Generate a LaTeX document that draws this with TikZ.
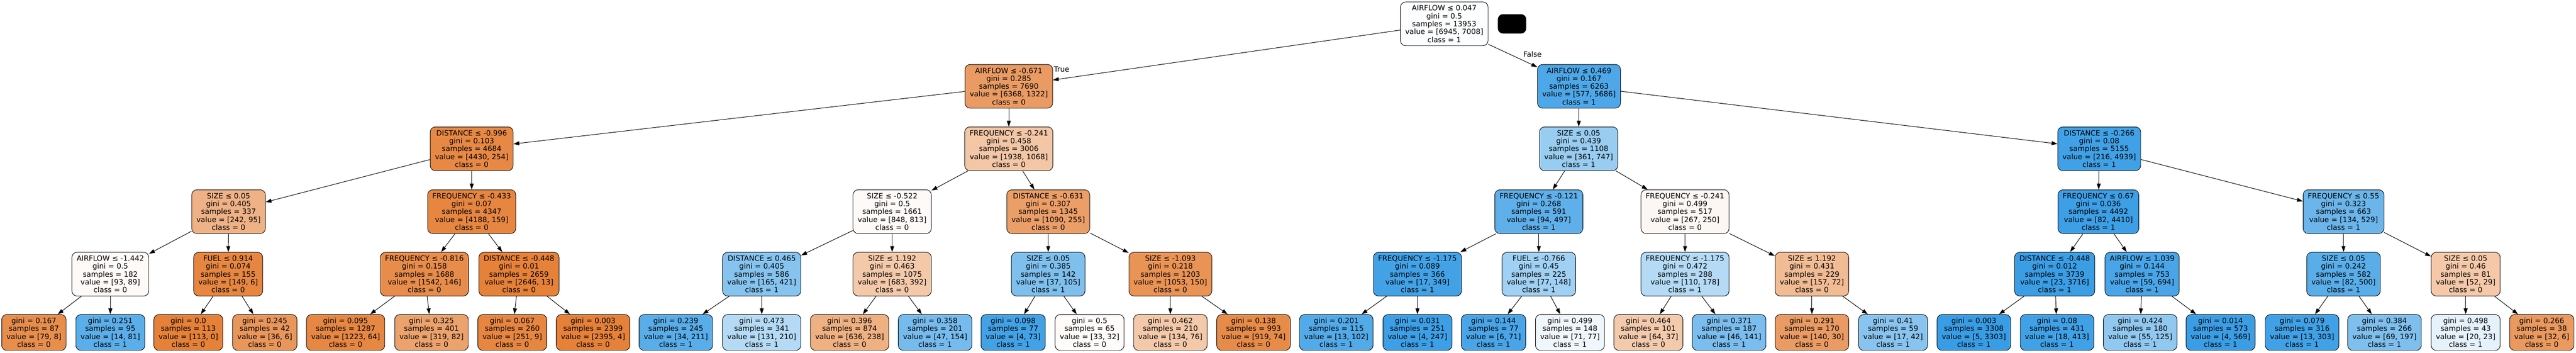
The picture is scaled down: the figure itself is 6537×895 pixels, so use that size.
\documentclass[tikz,border=0pt]{standalone}
\usepackage{fontspec}
\usepackage{tikz}
\usetikzlibrary{arrows.meta}
\newfontfamily\treefont{DejaVu Sans}
\definecolor{orng}{RGB}{229,129,57}
\definecolor{blu}{RGB}{57,157,229}

\begin{document}
\begin{tikzpicture}[x=1pt, y=-1pt,
	split/.style={draw=black, line width=1.2pt, rounded corners=13pt, align=center, inner xsep=12pt, inner ysep=4pt, minimum height=111pt, font={\treefont\fontsize{18.5}{20}\selectfont}},
	leaf/.style={split, minimum height=91pt},
	edge/.style={line width=1.3pt, -{Triangle[length=15pt,width=10pt]}},
	lbl/.style={font={\treefont\fontsize{18.5}{20}\selectfont}}]
	\useasboundingbox (0,0) rectangle (6537,895);
	% depth 0
	\node[split, fill=blu!1!white] (n0) at (3665,60.5) {AIRFLOW ≤ 0.047\\gini = 0.5\\samples = 13953\\value = [6945, 7008]\\class = 1};
	\node[fill=black, rounded corners=13pt, minimum width=72pt, minimum height=49pt, inner sep=0pt] (blob) at (3837,60.5) {};
	% depth 1
	\node[split, fill=orng!79!white] (n1) at (2560,219) {AIRFLOW ≤ -0.671\\gini = 0.285\\samples = 7690\\value = [6368, 1322]\\class = 0};
	\node[split, fill=blu!90!white] (n32) at (4007,219) {AIRFLOW ≤ 0.469\\gini = 0.167\\samples = 6263\\value = [577, 5686]\\class = 1};
	\node[lbl] (t) at (2694,176) {True};
	\node[lbl] (f) at (3889,137) {False};
	% depth 2
	\node[split, fill=orng!94!white] (n2) at (1197,377.5) {DISTANCE ≤ -0.996\\gini = 0.103\\samples = 4684\\value = [4430, 254]\\class = 0};
	\node[split, fill=orng!45!white] (n17) at (2560,377.5) {FREQUENCY ≤ -0.241\\gini = 0.458\\samples = 3006\\value = [1938, 1068]\\class = 0};
	\node[split, fill=blu!52!white] (n33) at (4006,377.5) {SIZE ≤ 0.05\\gini = 0.439\\samples = 1108\\value = [361, 747]\\class = 1};
	\node[split, fill=blu!96!white] (n48) at (5327,377.5) {DISTANCE ≤ -0.266\\gini = 0.08\\samples = 5155\\value = [216, 4939]\\class = 1};
	% depth 3
	\node[split, fill=orng!61!white] (n3) at (580,537) {SIZE ≤ 0.05\\gini = 0.405\\samples = 337\\value = [242, 95]\\class = 0};
	\node[split, fill=orng!96!white] (n10) at (1197,537) {FREQUENCY ≤ -0.433\\gini = 0.07\\samples = 4347\\value = [4188, 159]\\class = 0};
	\node[split, fill=orng!4!white] (n18) at (2264,537) {SIZE ≤ -0.522\\gini = 0.5\\samples = 1661\\value = [848, 813]\\class = 0};
	\node[split, fill=orng!77!white] (n25) at (2660,537) {DISTANCE ≤ -0.631\\gini = 0.307\\samples = 1345\\value = [1090, 255]\\class = 0};
	\node[split, fill=blu!81!white] (n34) at (3905,537) {FREQUENCY ≤ -0.121\\gini = 0.268\\samples = 591\\value = [94, 497]\\class = 1};
	\node[split, fill=orng!6!white] (n41) at (4276,537) {FREQUENCY ≤ -0.241\\gini = 0.499\\samples = 517\\value = [267, 250]\\class = 0};
	\node[split, fill=blu!98!white] (n49) at (5325,537) {FREQUENCY ≤ 0.67\\gini = 0.036\\samples = 4492\\value = [82, 4410]\\class = 1};
	\node[split, fill=blu!75!white] (n56) at (5947,537) {FREQUENCY ≤ 0.55\\gini = 0.323\\samples = 663\\value = [134, 529]\\class = 1};
	% depth 4
	\node[split, fill=orng!4!white] (n4) at (280,695.5) {AIRFLOW ≤ -1.442\\gini = 0.5\\samples = 182\\value = [93, 89]\\class = 0};
	\node[split, fill=orng!96!white] (n7) at (579,695.5) {FUEL ≤ 0.914\\gini = 0.074\\samples = 155\\value = [149, 6]\\class = 0};
	\node[split, fill=orng!91!white] (n11) at (1077,695.5) {FREQUENCY ≤ -0.816\\gini = 0.158\\samples = 1688\\value = [1542, 146]\\class = 0};
	\node[split, fill=orng!100!white] (n14) at (1317,695.5) {DISTANCE ≤ -0.448\\gini = 0.01\\samples = 2659\\value = [2646, 13]\\class = 0};
	\node[split, fill=blu!61!white] (n19) at (1933,695.5) {DISTANCE ≤ 0.465\\gini = 0.405\\samples = 586\\value = [165, 421]\\class = 1};
	\node[split, fill=orng!43!white] (n22) at (2264,695.5) {SIZE ≤ 1.192\\gini = 0.463\\samples = 1075\\value = [683, 392]\\class = 0};
	\node[split, fill=blu!65!white] (n26) at (2660,695.5) {SIZE ≤ 0.05\\gini = 0.385\\samples = 142\\value = [37, 105]\\class = 1};
	\node[split, fill=orng!86!white] (n29) at (2970,695.5) {SIZE ≤ -1.093\\gini = 0.218\\samples = 1203\\value = [1053, 150]\\class = 0};
	\node[split, fill=blu!95!white] (n35) at (3597,695.5) {FREQUENCY ≤ -1.175\\gini = 0.089\\samples = 366\\value = [17, 349]\\class = 1};
	\node[split, fill=blu!48!white] (n38) at (3905,695.5) {FUEL ≤ -0.766\\gini = 0.45\\samples = 225\\value = [77, 148]\\class = 1};
	\node[split, fill=blu!38!white] (n42) at (4276,695.5) {FREQUENCY ≤ -1.175\\gini = 0.472\\samples = 288\\value = [110, 178]\\class = 1};
	\node[split, fill=orng!54!white] (n45) at (4598,695.5) {SIZE ≤ 1.192\\gini = 0.431\\samples = 229\\value = [157, 72]\\class = 0};
	\node[split, fill=blu!99!white] (n50) at (5214,695.5) {DISTANCE ≤ -0.448\\gini = 0.012\\samples = 3739\\value = [23, 3716]\\class = 1};
	\node[split, fill=blu!92!white] (n53) at (5436,695.5) {AIRFLOW ≤ 1.039\\gini = 0.144\\samples = 753\\value = [59, 694]\\class = 1};
	\node[split, fill=blu!84!white] (n57) at (5947,695.5) {SIZE ≤ 0.05\\gini = 0.242\\samples = 582\\value = [82, 500]\\class = 1};
	\node[split, fill=orng!44!white] (n60) at (6257,695.5) {SIZE ≤ 0.05\\gini = 0.46\\samples = 81\\value = [52, 29]\\class = 0};
	% leaves
	\node[leaf, fill=orng!90!white] (n5) at (86,843.5) {gini = 0.167\\samples = 87\\value = [79, 8]\\class = 0};
	\node[leaf, fill=blu!83!white] (n6) at (280,843.5) {gini = 0.251\\samples = 95\\value = [14, 81]\\class = 1};
	\node[leaf, fill=orng!100!white] (n8) at (478,843.5) {gini = 0.0\\samples = 113\\value = [113, 0]\\class = 0};
	\node[leaf, fill=orng!83!white] (n9) at (672,843.5) {gini = 0.245\\samples = 42\\value = [36, 6]\\class = 0};
	\node[leaf, fill=orng!95!white] (n12) at (877,843.5) {gini = 0.095\\samples = 1287\\value = [1223, 64]\\class = 0};
	\node[leaf, fill=orng!74!white] (n13) at (1095,843.5) {gini = 0.325\\samples = 401\\value = [319, 82]\\class = 0};
	\node[leaf, fill=orng!96!white] (n15) at (1300,843.5) {gini = 0.067\\samples = 260\\value = [251, 9]\\class = 0};
	\node[leaf, fill=orng!100!white] (n16) at (1505,843.5) {gini = 0.003\\samples = 2399\\value = [2395, 4]\\class = 0};
	\node[leaf, fill=blu!84!white] (n20) at (1715,843.5) {gini = 0.239\\samples = 245\\value = [34, 211]\\class = 1};
	\node[leaf, fill=blu!38!white] (n21) at (1933,843.5) {gini = 0.473\\samples = 341\\value = [131, 210]\\class = 1};
	\node[leaf, fill=orng!63!white] (n23) at (2156,843.5) {gini = 0.396\\samples = 874\\value = [636, 238]\\class = 0};
	\node[leaf, fill=blu!69!white] (n24) at (2373,843.5) {gini = 0.358\\samples = 201\\value = [47, 154]\\class = 1};
	\node[leaf, fill=blu!95!white] (n27) at (2571,843.5) {gini = 0.098\\samples = 77\\value = [4, 73]\\class = 1};
	\node[leaf, fill=orng!3!white] (n28) at (2765,843.5) {gini = 0.5\\samples = 65\\value = [33, 32]\\class = 0};
	\node[leaf, fill=orng!43!white] (n30) at (2970,843.5) {gini = 0.462\\samples = 210\\value = [134, 76]\\class = 0};
	\node[leaf, fill=orng!92!white] (n31) at (3181,843.5) {gini = 0.138\\samples = 993\\value = [919, 74]\\class = 0};
	\node[leaf, fill=blu!87!white] (n36) at (3391,843.5) {gini = 0.201\\samples = 115\\value = [13, 102]\\class = 1};
	\node[leaf, fill=blu!98!white] (n37) at (3597,843.5) {gini = 0.031\\samples = 251\\value = [4, 247]\\class = 1};
	\node[leaf, fill=blu!92!white] (n39) at (3790,843.5) {gini = 0.144\\samples = 77\\value = [6, 71]\\class = 1};
	\node[leaf, fill=blu!8!white] (n40) at (3984,843.5) {gini = 0.499\\samples = 148\\value = [71, 77]\\class = 1};
	\node[leaf, fill=orng!42!white] (n43) at (4183,843.5) {gini = 0.464\\samples = 101\\value = [64, 37]\\class = 0};
	\node[leaf, fill=blu!67!white] (n44) at (4388,843.5) {gini = 0.371\\samples = 187\\value = [46, 141]\\class = 1};
	\node[leaf, fill=orng!79!white] (n46) at (4598,843.5) {gini = 0.291\\samples = 170\\value = [140, 30]\\class = 0};
	\node[leaf, fill=blu!60!white] (n47) at (4804,843.5) {gini = 0.41\\samples = 59\\value = [17, 42]\\class = 1};
	\node[leaf, fill=blu!100!white] (n51) at (5009,843.5) {gini = 0.003\\samples = 3308\\value = [5, 3303]\\class = 1};
	\node[leaf, fill=blu!96!white] (n52) at (5220,843.5) {gini = 0.08\\samples = 431\\value = [18, 413]\\class = 1};
	\node[leaf, fill=blu!56!white] (n54) at (5431,843.5) {gini = 0.424\\samples = 180\\value = [55, 125]\\class = 1};
	\node[leaf, fill=blu!99!white] (n55) at (5635,843.5) {gini = 0.014\\samples = 573\\value = [4, 569]\\class = 1};
	\node[leaf, fill=blu!96!white] (n58) at (5842,843.5) {gini = 0.079\\samples = 316\\value = [13, 303]\\class = 1};
	\node[leaf, fill=blu!65!white] (n59) at (6051,843.5) {gini = 0.384\\samples = 266\\value = [69, 197]\\class = 1};
	\node[leaf, fill=blu!13!white] (n61) at (6257,843.5) {gini = 0.498\\samples = 43\\value = [20, 23]\\class = 1};
	\node[leaf, fill=orng!81!white] (n62) at (6450,843.5) {gini = 0.266\\samples = 38\\value = [32, 6]\\class = 0};
	% edges
	\draw[edge] (n0) -- (n1); \draw[edge] (n0) -- (n32);
	\draw[edge] (n1) -- (n2); \draw[edge] (n1) -- (n17);
	\draw[edge] (n32) -- (n33); \draw[edge] (n32) -- (n48);
	\draw[edge] (n2) -- (n3); \draw[edge] (n2) -- (n10);
	\draw[edge] (n17) -- (n18); \draw[edge] (n17) -- (n25);
	\draw[edge] (n33) -- (n34); \draw[edge] (n33) -- (n41);
	\draw[edge] (n48) -- (n49); \draw[edge] (n48) -- (n56);
	\draw[edge] (n3) -- (n4); \draw[edge] (n3) -- (n7);
	\draw[edge] (n10) -- (n11); \draw[edge] (n10) -- (n14);
	\draw[edge] (n18) -- (n19); \draw[edge] (n18) -- (n22);
	\draw[edge] (n25) -- (n26); \draw[edge] (n25) -- (n29);
	\draw[edge] (n34) -- (n35); \draw[edge] (n34) -- (n38);
	\draw[edge] (n41) -- (n42); \draw[edge] (n41) -- (n45);
	\draw[edge] (n49) -- (n50); \draw[edge] (n49) -- (n53);
	\draw[edge] (n56) -- (n57); \draw[edge] (n56) -- (n60);
	\draw[edge] (n4) -- (n5); \draw[edge] (n4) -- (n6);
	\draw[edge] (n7) -- (n8); \draw[edge] (n7) -- (n9);
	\draw[edge] (n11) -- (n12); \draw[edge] (n11) -- (n13);
	\draw[edge] (n14) -- (n15); \draw[edge] (n14) -- (n16);
	\draw[edge] (n19) -- (n20); \draw[edge] (n19) -- (n21);
	\draw[edge] (n22) -- (n23); \draw[edge] (n22) -- (n24);
	\draw[edge] (n26) -- (n27); \draw[edge] (n26) -- (n28);
	\draw[edge] (n29) -- (n30); \draw[edge] (n29) -- (n31);
	\draw[edge] (n35) -- (n36); \draw[edge] (n35) -- (n37);
	\draw[edge] (n38) -- (n39); \draw[edge] (n38) -- (n40);
	\draw[edge] (n42) -- (n43); \draw[edge] (n42) -- (n44);
	\draw[edge] (n45) -- (n46); \draw[edge] (n45) -- (n47);
	\draw[edge] (n50) -- (n51); \draw[edge] (n50) -- (n52);
	\draw[edge] (n53) -- (n54); \draw[edge] (n53) -- (n55);
	\draw[edge] (n57) -- (n58); \draw[edge] (n57) -- (n59);
	\draw[edge] (n60) -- (n61); \draw[edge] (n60) -- (n62);
\end{tikzpicture}
\end{document}
